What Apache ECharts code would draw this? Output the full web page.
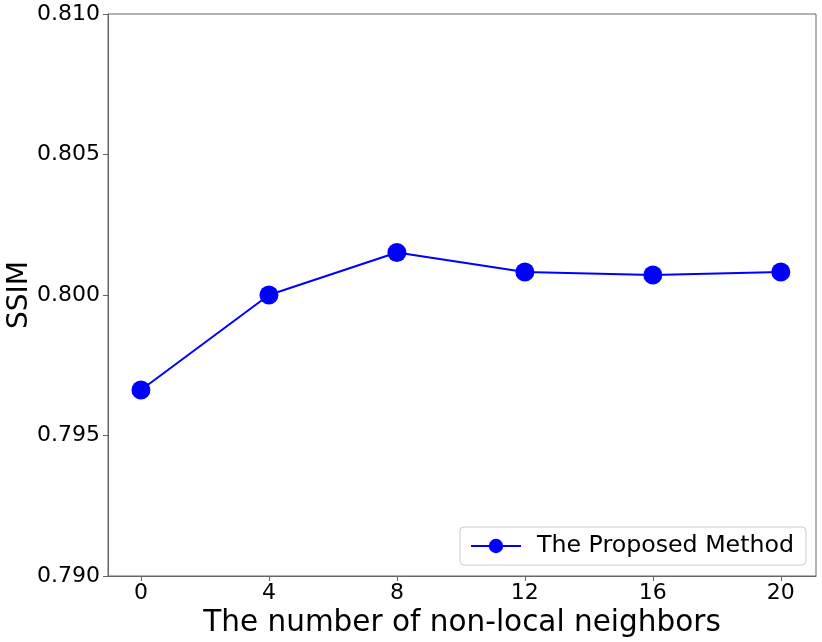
<!DOCTYPE html>
<html><head><meta charset="utf-8">
<script src="https://cdn.jsdelivr.net/npm/echarts@6/dist/echarts.min.js"></script>
<style>html,body{margin:0;padding:0;background:#fff}#c{width:822px;height:642px}</style>
</head><body><div id="c"></div>
<script>
const neighbors = [0, 4, 8, 12, 16, 20];
const ssim = [0.79662, 0.80000, 0.80151, 0.80082, 0.80071, 0.80082];
const xTicks = [0, 4, 8, 12, 16, 20];
const seriesName = 'The Proposed Method';
const font = 'DejaVu Sans';
const axisColor = '#666';
const chart = echarts.init(document.getElementById('c'));
chart.setOption({
  animation: false,
  backgroundColor: '#fff',
  grid: {left: 108, right: 6, top: 14, bottom: 66, outerBoundsMode: 'none', containLabel: false,
         show: true, borderColor: axisColor, borderWidth: 1, backgroundColor: 'transparent'},
  xAxis: {
    type: 'value', min: -1.03, max: 21.1,
    name: 'The number of non-local neighbors', nameLocation: 'middle', nameGap: 32, nameMoveOverlap: false,
    nameTextStyle: {fontFamily: font, fontSize: 29.5, color: '#000'},
    axisLine: {show: true, onZero: false, lineStyle: {color: axisColor}},
    axisTick: {show: true, length: 5, customValues: xTicks, lineStyle: {color: axisColor}},
    axisLabel: {customValues: xTicks, fontFamily: font, fontSize: 22, color: '#000', margin: 6},
    splitLine: {show: false}
  },
  yAxis: {
    type: 'value', min: 0.790, max: 0.810, interval: 0.005,
    name: 'SSIM', nameLocation: 'middle', nameGap: 74, nameMoveOverlap: false,
    nameTextStyle: {fontFamily: font, fontSize: 28, color: '#000'},
    axisLine: {show: true, onZero: false, lineStyle: {color: axisColor}},
    axisTick: {show: true, length: 5, lineStyle: {color: axisColor}},
    axisLabel: {fontFamily: font, fontSize: 22, color: '#000', margin: 8, formatter: v => v.toFixed(3)},
    splitLine: {show: false}
  },
  legend: {
    data: [seriesName], right: 16, bottom: 77, orient: 'vertical',
    itemWidth: 50, itemHeight: 18, itemGap: 10,
    padding: [7, 12, 7, 10],
    borderColor: '#ccc', borderWidth: 1, borderRadius: 4,
    backgroundColor: 'rgba(255,255,255,0.8)',
    textStyle: {fontFamily: font, fontSize: 23.7, color: '#000', padding: [0, 0, 0, 11]}
  },
  series: [{
    name: seriesName, type: 'line',
    data: neighbors.map((x, i) => [x, ssim[i]]),
    symbol: 'circle', symbolSize: 19,
    lineStyle: {color: '#0000ff', width: 2},
    itemStyle: {color: '#0000ff'}
  }]
});
</script></body></html>
